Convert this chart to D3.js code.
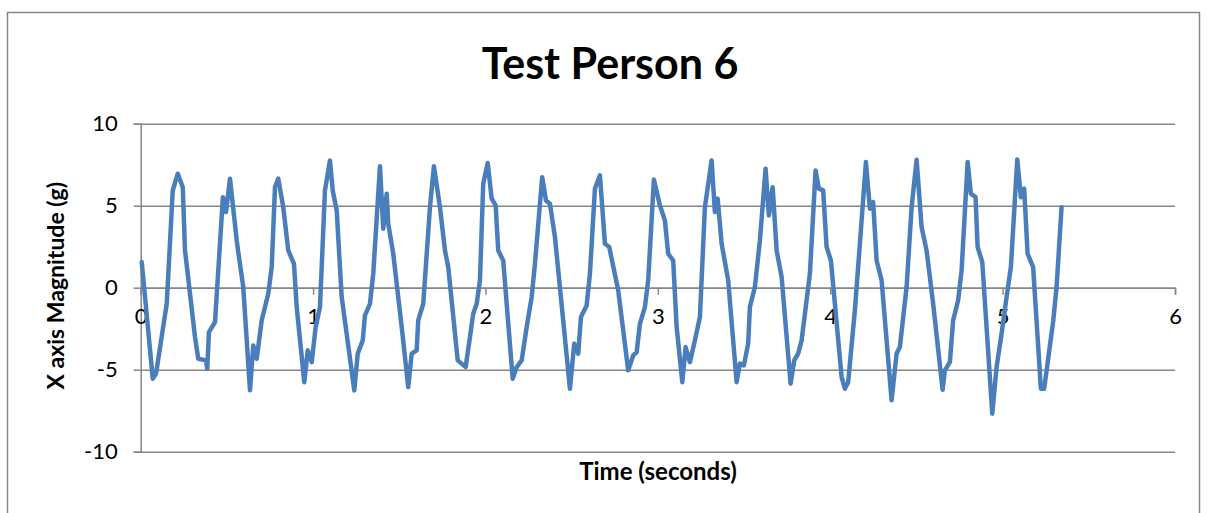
<!DOCTYPE html>
<html>
<head>
<meta charset="utf-8">
<script src="https://cdn.jsdelivr.net/npm/d3@7"></script>
<style>
  body { margin: 0; background: #fff; }
  svg { display: block; font-family: Lato, "Open Sans", sans-serif; }
</style>
</head>
<body>
<div id="chart"></div>
<script>
const title = "Test Person 6";
const xTitle = "Time (seconds)";
const yTitle = "X axis Magnitude (g)";
const xTicks = [0, 1, 2, 3, 4, 5, 6];
const yTicks = [-10, -5, 0, 5, 10];

// sample times (s) and acceleration (g)
const times = [
  0.006, 0.070, 0.089, 0.151, 0.186, 0.215, 0.244, 0.257, 0.315, 0.334, 0.379, 0.386, 0.396, 0.431, 0.477, 0.495, 0.518,
  0.557, 0.570, 0.595, 0.634, 0.653, 0.673, 0.702, 0.740, 0.760, 0.779, 0.798, 0.827, 0.856, 0.889, 0.905, 0.949, 0.969, 0.992, 1.015, 1.040, 1.069,
  1.098, 1.114, 1.137, 1.166, 1.239, 1.259, 1.288, 1.301, 1.330, 1.349, 1.388, 1.407, 1.427, 1.436, 1.465, 1.514, 1.552, 1.572, 1.601,
  1.610, 1.639, 1.678, 1.701, 1.736, 1.765, 1.784, 1.839, 1.885, 1.910, 1.929, 1.949, 1.968, 1.987, 2.013, 2.036, 2.059, 2.074, 2.103,
  2.158, 2.181, 2.210, 2.239, 2.268, 2.287, 2.329, 2.351, 2.374, 2.403, 2.490, 2.515, 2.538, 2.554, 2.587, 2.606, 2.635, 2.664, 2.693, 2.718,
  2.770, 2.828, 2.857, 2.877, 2.896, 2.925, 2.944, 2.977, 3.012, 3.041, 3.060, 3.089, 3.109, 3.142, 3.161, 3.186, 3.215, 3.244, 3.273,
  3.312, 3.331, 3.347, 3.370, 3.408, 3.457, 3.476, 3.499, 3.524, 3.534, 3.563, 3.592, 3.625, 3.644, 3.666, 3.689, 3.718, 3.770, 3.791, 3.814,
  3.834, 3.882, 3.915, 3.934, 3.959, 3.979, 4.004, 4.066, 4.085, 4.104, 4.143, 4.182, 4.207, 4.230, 4.249, 4.269, 4.298, 4.356,
  4.385, 4.404, 4.443, 4.472, 4.501, 4.530, 4.559, 4.597, 4.652, 4.665, 4.694, 4.713, 4.742, 4.762, 4.797, 4.816, 4.843, 4.855, 4.882,
  4.940, 4.965, 4.994, 5.023, 5.048, 5.085, 5.106, 5.125, 5.145, 5.177, 5.222, 5.241, 5.294, 5.313, 5.342
];
const magnitudes = [
  1.56, -5.55, -5.24, -0.98, 5.93, 6.95, 6.13, 2.27, -3.01, -4.33, -4.43, -4.94, -2.71, -2.10, 5.52, 4.61, 6.65,
  2.88, 1.87, 0.04, -6.26, -3.52, -4.33, -1.99, -0.37, 1.26, 6.13, 6.65, 4.91, 2.27, 1.46, -1.18, -5.76, -3.82, -4.54, -2.40, -1.18, 5.93,
  7.76, 5.93, 4.71, -0.57, -6.26, -4.02, -3.21, -1.69, -0.98, 0.85, 7.40, 3.60, 5.73, 3.90, 2.07, -2.40, -6.06, -4.02, -3.82,
  -1.99, -0.98, 4.91, 7.40, 4.91, 2.27, 1.26, -4.43, -4.84, -3.01, -1.59, -0.98, 0.45, 6.34, 7.60, 5.43, 5.02, 2.27, 1.66,
  -5.55, -4.84, -4.43, -2.40, -0.57, 1.46, 6.74, 5.32, 5.12, 3.09, -6.16, -3.41, -4.02, -1.79, -1.08, 0.85, 6.04, 6.85, 2.68, 2.48,
  -0.16, -5.04, -4.13, -3.93, -2.20, -1.18, 0.45, 6.59, 5.02, 4.10, 2.07, 1.66, -2.40, -5.76, -3.62, -4.54, -3.21, -1.79, 4.91,
  7.76, 4.61, 5.43, 2.68, 0.45, -5.76, -4.63, -4.74, -3.41, -1.18, 0.04, 2.88, 7.26, 4.41, 6.13, 2.27, 0.65, -5.85, -4.43, -4.02,
  -3.21, 0.85, 7.15, 6.04, 5.93, 2.48, 1.66, -5.45, -6.16, -5.76, -1.38, 4.10, 7.66, 4.82, 5.22, 1.66, 0.45, -6.87,
  -4.02, -3.62, 0.04, 4.91, 7.80, 3.70, 2.27, -0.98, -6.22, -5.04, -4.54, -1.99, -0.77, 1.05, 7.66, 5.73, 5.52, 2.48, 1.56,
  -7.68, -4.84, -2.80, -0.57, 1.26, 7.82, 5.52, 6.04, 2.07, 1.26, -6.16, -6.16, -1.99, 0.04, 4.91
];

const width = 1207;
const height = 513;
const margin = { top: 123.7, right: 32, bottom: 61.3, left: 140.7 };
const innerWidth = width - margin.left - margin.right;
const innerHeight = height - margin.top - margin.bottom;
const gridColor = "#868686";
const lineColor = "#4a7ebb";

const points = times.map((t, i) => ({ t, v: magnitudes[i] }));

const svg = d3.select("#chart")
  .append("svg")
  .attr("width", width)
  .attr("height", height);

// outer chart border
svg.append("rect")
  .attr("x", 7.5)
  .attr("y", 12.5)
  .attr("width", 1192)
  .attr("height", 520)
  .attr("fill", "none")
  .attr("stroke", gridColor)
  .attr("stroke-width", 1.5);

const chart = svg.append("g")
  .attr("transform", `translate(${margin.left}, ${margin.top})`);

const x = d3.scaleLinear().domain([0, 6]).range([0, innerWidth]);
const y = d3.scaleLinear().domain([-10, 10]).range([innerHeight, 0]);

const plainNumber = (d) => String(d);

// horizontal gridlines
chart.append("g")
  .call(d3.axisLeft(y).tickValues(yTicks).tickSize(-innerWidth).tickFormat(""))
  .call((g) => g.select(".domain").remove())
  .call((g) => g.selectAll(".tick line").attr("stroke", gridColor).attr("stroke-width", 1.5));

chart.append("g")
  .call(d3.axisLeft(y).tickValues(yTicks).tickSize(7).tickPadding(16).tickFormat(plainNumber))
  .call((g) => g.select(".domain").attr("stroke", gridColor).attr("stroke-width", 1.5))
  .call((g) => g.selectAll(".tick line").attr("stroke", gridColor).attr("stroke-width", 1.5))
  .call((g) => g.selectAll(".tick text")
    .attr("fill", "#000")
    .attr("font-size", 22)
    .attr("font-family", "Lato, sans-serif"));

// x axis sits on the zero line
chart.append("g")
  .attr("transform", `translate(0, ${y(0)})`)
  .call(d3.axisBottom(x).tickValues(xTicks).tickSize(7).tickPadding(14).tickFormat(plainNumber))
  .call((g) => g.select(".domain").attr("stroke", gridColor).attr("stroke-width", 1.5))
  .call((g) => g.selectAll(".tick line").attr("stroke", gridColor).attr("stroke-width", 1.5))
  .call((g) => g.selectAll(".tick text")
    .attr("fill", "#000")
    .attr("font-size", 22)
    .attr("font-family", "Lato, sans-serif"));

const line = d3.line()
  .x((d) => x(d.t))
  .y((d) => y(d.v));

chart.append("path")
  .datum(points)
  .attr("fill", "none")
  .attr("stroke", lineColor)
  .attr("stroke-width", 4.5)
  .attr("stroke-linejoin", "round")
  .attr("stroke-linecap", "round")
  .attr("d", line);

svg.append("text")
  .attr("x", 610)
  .attr("y", 79)
  .attr("text-anchor", "middle")
  .attr("font-size", 43)
  .attr("font-weight", "bold")
  .text(title);

svg.append("text")
  .attr("x", 658)
  .attr("y", 480)
  .attr("text-anchor", "middle")
  .attr("font-size", 24)
  .attr("font-weight", "bold")
  .text(xTitle);

svg.append("text")
  .attr("transform", `translate(64, ${margin.top + innerHeight / 2 - 2}) rotate(-90)`)
  .attr("text-anchor", "middle")
  .attr("font-size", 23)
  .attr("font-weight", "bold")
  .text(yTitle);
</script>
</body>
</html>
